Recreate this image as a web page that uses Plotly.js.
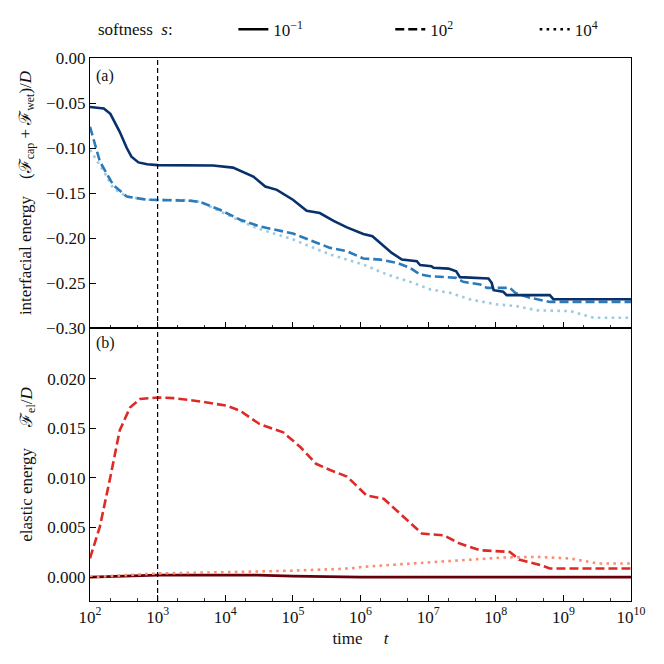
<!DOCTYPE html>
<html><head><meta charset="utf-8">
<script src="https://cdn.plot.ly/plotly-3.0.1.min.js"></script>
<style>html,body{margin:0;padding:0;background:#fff}#plot{width:664px;height:664px}</style>
</head><body><div id="plot"></div>
<script>
// ---- data ----
const capSolidT = [1e2,1.3e2,1.6e2,2.0e2,2.75e2,3.5e2,4.1e2,5.2e2,7e2,1e3,3e3,6.6e3,1.3e4,2.6e4,3.9e4,5.8e4,1.0e5,1.6e5,2.5e5,4.0e5,6.3e5,1.1e6,1.5e6,2.2e6,2.9e6,4.1e6,6.8e6,7.6e6,1.12e7,1.2e7,2.0e7,2.6e7,2.95e7,7.8e7,8.7e7,9.3e7,1.29e8,1.45e8,6.3e8,7.1e8,1e10];
const capSolidY = [-0.0545,-0.055,-0.056,-0.062,-0.082,-0.100,-0.1096,-0.116,-0.118,-0.119,-0.1195,-0.1195,-0.1218,-0.1317,-0.1428,-0.1465,-0.1575,-0.1697,-0.1723,-0.181,-0.1882,-0.1956,-0.198,-0.209,-0.2166,-0.224,-0.2258,-0.230,-0.2313,-0.233,-0.234,-0.2369,-0.2435,-0.245,-0.2498,-0.258,-0.2597,-0.2635,-0.2635,-0.268,-0.268];

const capDashT = [1e2,1.4e2,2.2e2,3.5e2,7e2,3e3,4.3e3,8.3e3,1.66e4,3.2e4,1e5,3.55e5,6.3e5,1.1e6,1.95e6,3.5e6,5.4e6,7.6e6,1.07e7,2.6e7,3.3e7,5.9e7,7.4e7,1.62e8,1.95e8,3.2e8,6.3e8,1e10];
const capDashY = [-0.0764,-0.115,-0.141,-0.154,-0.1575,-0.1586,-0.160,-0.1686,-0.1797,-0.187,-0.195,-0.211,-0.2147,-0.2228,-0.224,-0.2277,-0.2332,-0.2405,-0.2424,-0.2443,-0.2487,-0.2516,-0.2554,-0.2554,-0.261,-0.2664,-0.271,-0.271];

const capDotT = [1e2,1.6e2,2.2e2,3.5e2,7e2,3e3,4.3e3,8.3e3,1.66e4,3.2e4,1e5,3.55e5,6.3e5,1.1e6,2.45e6,6e6,1.07e7,2.1e7,4.2e7,1.05e8,2.0e8,4.1e8,1.26e9,2.8e9,1e10];
const capDotY = [-0.102,-0.126,-0.1447,-0.154,-0.1575,-0.158,-0.160,-0.170,-0.181,-0.190,-0.2015,-0.2184,-0.224,-0.2295,-0.2405,-0.2498,-0.2571,-0.2609,-0.2683,-0.2738,-0.2756,-0.2804,-0.2812,-0.2886,-0.2886];

const elSolidT = [1e2,3e2,1e3,1e4,3e4,1e5,1e6,1e10];
const elSolidY = [0.0000,0.0001,0.0002,0.0002,0.0002,0.0001,0.0000,0.0000];

const elDashT = [1e2,1.4e2,2.0e2,2.75e2,3.9e2,5.5e2,1.0e3,1.7e3,4.3e3,1.05e4,1.66e4,3.2e4,7.2e4,1.3e5,2.2e5,3.55e5,6.3e5,1.23e6,2.2e6,3.9e6,8.1e6,1.7e7,2.95e7,5.9e7,1.62e8,2.2e8,4.6e8,6.3e8,1e10];
const elDashY = [0.0019,0.0051,0.0101,0.0148,0.0171,0.01796,0.01812,0.01806,0.01772,0.01729,0.01678,0.01545,0.0146,0.0131,0.01143,0.0108,0.01015,0.00824,0.00791,0.0064,0.00439,0.00422,0.00338,0.00271,0.00254,0.00178,0.00121,0.00087,0.00087];

const elDotT = [1e2,1e3,1e4,1e5,7e5,1.1e6,6e6,3.3e7,1.3e8,4.1e8,1.26e9,3.2e9,1e10];
const elDotY = [0.0000,0.00037,0.0005,0.00065,0.00087,0.00104,0.00138,0.0017,0.00198,0.00204,0.00188,0.00138,0.00138];

const markerTime = 1e3;
const xTickVals = [1e2,1e3,1e4,1e5,1e6,1e7,1e8,1e9,1e10];
const xTickText = ['10<sup>2</sup>','10<sup>3</sup>','10<sup>4</sup>','10<sup>5</sup>','10<sup>6</sup>','10<sup>7</sup>','10<sup>8</sup>','10<sup>9</sup>','10<sup>10</sup>'];
const softnessLabels = ['10<sup>−1</sup>','10<sup>2</sup>','10<sup>4</sup>'];

// ---- styling ----
const FONT = "'Liberation Serif', serif";
const LW = 2.6;
const DASH = '9px,4px';
const DOT = '2.6px,4.3px';
const blue = {solid:'#08306b', dash:'#2b7bba', dot:'#9ecae1'};
const red  = {solid:'#67000d', dash:'#de2a26', dot:'#fc8d6f'};
const TXT = {size:17,family:FONT,color:'#111'};

function tr(x,y,color,dash,xa,ya){
  return {x:x,y:y,type:'scatter',mode:'lines',xaxis:xa,yaxis:ya,showlegend:false,hoverinfo:'skip',
          line:{color:color,width:LW,dash:dash}};
}
const traces = [
  tr(capDotT,capDotY,blue.dot,DOT,'x','y'),
  tr(capDashT,capDashY,blue.dash,DASH,'x','y'),
  tr(capSolidT,capSolidY,blue.solid,'solid','x','y'),
  tr(elSolidT,elSolidY,red.solid,'solid','x2','y2'),
  tr(elDotT,elDotY,red.dot,DOT,'x2','y2'),
  tr(elDashT,elDashY,red.dash,DASH,'x2','y2'),
];
// legend entries (one legend box per entry so each can be placed)
const legendNames = ['legend','legend2','legend3'];
['solid',DASH,DOT].forEach((d,i)=>{
  traces.push({x:[null],y:[null],type:'scatter',mode:'lines',xaxis:'x',yaxis:'y',legend:legendNames[i],
    name:softnessLabels[i],showlegend:true,line:{color:'#000',width:LW,dash:d}});
});

const split = 274/545;
const axCommon = {type:'log',range:[2,10],showgrid:false,zeroline:false,showline:true,linecolor:'#000',linewidth:1.2,
  mirror:true,ticks:'inside',ticklen:6,tickwidth:1,tickcolor:'#000',tickvals:xTickVals,ticktext:xTickText,
  minor:{ticks:'inside',ticklen:3,tickwidth:0.8,tickcolor:'#000',showgrid:false}};
const yCommon = {showgrid:false,zeroline:false,showline:true,linecolor:'#000',linewidth:1.2,mirror:true,
  ticks:'inside',ticklen:6,tickwidth:1,tickcolor:'#000',tickfont:{size:17,family:FONT,color:'#111'}};
const legCommon = {orientation:'h',y:1.052,xanchor:'left',yanchor:'middle',bgcolor:'rgba(0,0,0,0)',
  font:TXT,itemwidth:30,borderwidth:0};

const layout = {
  width:664,height:664,margin:{l:90,r:33,t:56,b:63},
  paper_bgcolor:'#fff',plot_bgcolor:'#fff',
  font:{family:FONT,size:17,color:'#111'},
  xaxis:Object.assign({},axCommon,{anchor:'y',domain:[0,1],showticklabels:false,matches:'x2'}),
  xaxis2:Object.assign({},axCommon,{anchor:'y2',domain:[0,1],tickfont:{size:17,family:FONT,color:'#111'},
    title:{text:'time\u00a0\u00a0\u00a0\u00a0\u00a0<i>t</i>',font:TXT,standoff:6}}),
  yaxis:Object.assign({},yCommon,{domain:[split,1],range:[-0.30,0.0],dtick:0.05,tickformat:'.2f',
    title:{text:'interfacial energy\u00a0\u00a0\u00a0\u00a0(ℱ<sub>cap</sub> + ℱ<sub>wet</sub>)/<i>D</i>',font:TXT,standoff:10}}),
  yaxis2:Object.assign({},yCommon,{domain:[0,split],range:[-0.00241,0.02513],tickvals:[0,0.005,0.01,0.015,0.02],tickformat:'.3f',
    title:{text:'elastic energy\u00a0\u00a0\u00a0\u00a0\u00a0ℱ<sub>el</sub>/<i>D</i>',font:TXT,standoff:10}}),
  shapes:[{type:'line',xref:'x',yref:'paper',x0:markerTime,x1:markerTime,y0:0,y1:1,
    line:{color:'#000',width:1.2,dash:'5px,3px'},layer:'above'}],
  annotations:[
    {text:'(a)',xref:'paper',yref:'paper',x:0.008,y:0.988,xanchor:'left',yanchor:'top',showarrow:false,font:{size:16,family:FONT,color:'#111'}},
    {text:'(b)',xref:'paper',yref:'paper',x:0.008,y:split-0.008,xanchor:'left',yanchor:'top',showarrow:false,font:{size:16,family:FONT,color:'#111'}},
    {text:'softness\u00a0\u00a0<i>s</i>:',xref:'paper',yref:'paper',x:0.012,y:1.052,xanchor:'left',yanchor:'middle',showarrow:false,font:TXT}
  ],
  showlegend:true,
  legend:Object.assign({},legCommon,{x:0.265}),
  legend2:Object.assign({},legCommon,{x:0.555}),
  legend3:Object.assign({},legCommon,{x:0.822})
};
Plotly.newPlot('plot',traces,layout,{displayModeBar:false,staticPlot:true});
</script></body></html>
